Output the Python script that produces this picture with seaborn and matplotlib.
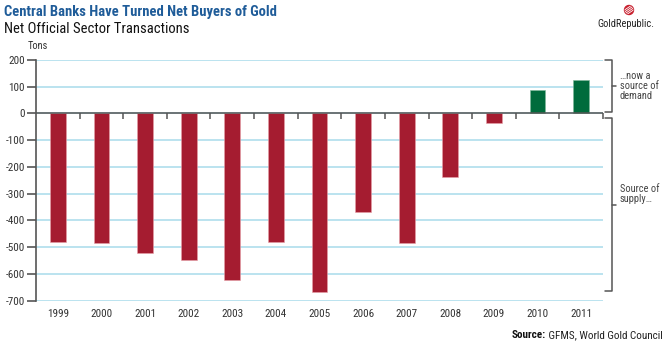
import matplotlib
matplotlib.use("Agg")
import matplotlib.pyplot as plt
import matplotlib.transforms as mtrans
from matplotlib.lines import Line2D
from matplotlib.patches import Circle
from matplotlib import font_manager
import seaborn as sns
import pandas as pd

years = ["1999", "2000", "2001", "2002", "2003", "2004", "2005",
         "2006", "2007", "2008", "2009", "2010", "2011"]
tons = [-479, -485, -521, -547, -624, -481, -667,
        -368, -486, -238, -35, 88, 126]
yticks = [200, 100, 0, -100, -200, -300, -400, -500, -600, -700]

title = "Central Banks Have Turned Net Buyers of Gold"
subtitle = "Net Official Sector Transactions"
unit_label = "Tons"
demand_note = "\u2026now a\nsource of\ndemand"
supply_note = "Source of\nsupply\u2026"
source_bold = "Source:"
source_rest = " GFMS, World Gold Council"
logo_text = "GoldRepublic."

RED = "#A51C30"
GREEN = "#006B3C"
GRID = "#B5E1EE"
DARK = "#555555"
BLUE = "#1F5C99"

names = {f.name for f in font_manager.fontManager.ttflist}
def pick(*cands):
    for c in cands:
        if c in names:
            return c
    return "DejaVu Sans"
NARROW = pick("Liberation Sans Narrow", "Roboto Condensed", "Arial Narrow",
              "Liberation Sans", "Roboto")

sns.set_theme(style="white")
plt.rcParams["font.family"] = [NARROW, "DejaVu Sans"]

df = pd.DataFrame({"year": years, "tons": tons})
df["sign"] = ["pos" if v > 0 else "neg" for v in tons]

fig = plt.figure(figsize=(6.7, 3.46), dpi=100)
ax = fig.add_axes([36 / 670, 1 - 300.7 / 346, (603 - 36) / 670, (300.7 - 60) / 346])

sns.barplot(data=df, x="year", y="tons", hue="sign",
            palette={"pos": GREEN, "neg": RED}, dodge=False, width=0.36,
            saturation=1, legend=False, ax=ax, edgecolor="#E8A0A8",
            linewidth=0.4, zorder=3)
for p in ax.patches:
    if p.get_height() > 0:
        p.set_edgecolor("#7FB89A")

ax.set_xlim(-0.5, len(years) - 0.5)
ax.set_ylim(-700, 200)
ax.set_yticks(yticks)
ax.set_yticklabels([str(v) for v in yticks])
ax.set_xlabel("")
ax.set_ylabel("")

ax.yaxis.grid(True, color=GRID, lw=1.3, zorder=0)
ax.xaxis.grid(False)
for s in ["top", "right", "bottom"]:
    ax.spines[s].set_visible(False)
ax.spines["left"].set_color(DARK)
ax.spines["left"].set_linewidth(1.2)
ax.tick_params(axis="y", length=6.5, width=1.2, color=DARK, left=True,
               labelsize=8, labelcolor="#333333", pad=1.5)
ax.tick_params(axis="x", length=0, labelsize=8, labelcolor="#333333", pad=6)

# zero line with category boundary ticks
ax.axhline(0, color=DARK, lw=1.1, zorder=4)
for k in range(len(years)):
    ax.plot([k + 0.5, k + 0.5], [0, -22], color=DARK, lw=1.1, zorder=4,
            clip_on=False, solid_capstyle="butt")

# brackets
bt = mtrans.blended_transform_factory(fig.transFigure, ax.transData)
xb = 611.5 / 670
xa = 605 / 670
xm = 616 / 670
def bracket(y0, y1):
    fig.add_artist(Line2D([xa, xb, xb, xa], [y0, y0, y1, y1], transform=bt,
                          color=DARK, lw=1.1))
    ym = (y0 + y1) / 2
    fig.add_artist(Line2D([xb, xm], [ym, ym], transform=bt, color=DARK, lw=1.1))
    return ym
ym1 = bracket(200, 5)
ym2 = bracket(-17, -665)
fig.text(620 / 670, ym1 + 2, demand_note, transform=bt, fontsize=7.5,
         color="#444444", va="center", ha="left", linespacing=1.0)
fig.text(620 / 670, ym2 + 40, supply_note, transform=bt, fontsize=7.5,
         color="#444444", va="center", ha="left", linespacing=1.0)

# titles
fig.text(4 / 670, 1 - 12 / 346, title, fontsize=10.5, fontweight="bold",
         color=BLUE, ha="left", va="center")
fig.text(4 / 670, 1 - 29 / 346, subtitle, fontsize=10.5, color="#111111",
         ha="left", va="center")
fig.text(28 / 670, 1 - 46 / 346, unit_label, fontsize=7.5, color="#333333",
         ha="left", va="center")

# logo
fig.text(626 / 670, 1 - 24 / 346, logo_text, fontsize=7.5, color="#222222",
         ha="center", va="center")
cx, cy, r = 6.29, 3.46 - 0.10, 0.045
ball = Circle((cx, cy), r, transform=fig.dpi_scale_trans, color="#C8202E")
fig.add_artist(ball)
for d in (-0.03, -0.01, 0.01, 0.03):
    ln = Line2D([cx - 0.06, cx + 0.06], [cy + d - 0.04, cy + d + 0.04],
                transform=fig.dpi_scale_trans, color="white", lw=0.6)
    fig.add_artist(ln)
    ln.set_clip_path(ball)

# source
st = fig.text(663 / 670, 1 - 335 / 346, source_rest, fontsize=8, color="#222222",
              ha="right", va="center")
fig.canvas.draw()
bb = st.get_window_extent()
fig.text(bb.x0 / fig.bbox.width, 1 - 335 / 346, source_bold, fontsize=8,
         fontweight="bold", color="#111111", ha="right", va="center")

fig.savefig("out.png", dpi=100)
